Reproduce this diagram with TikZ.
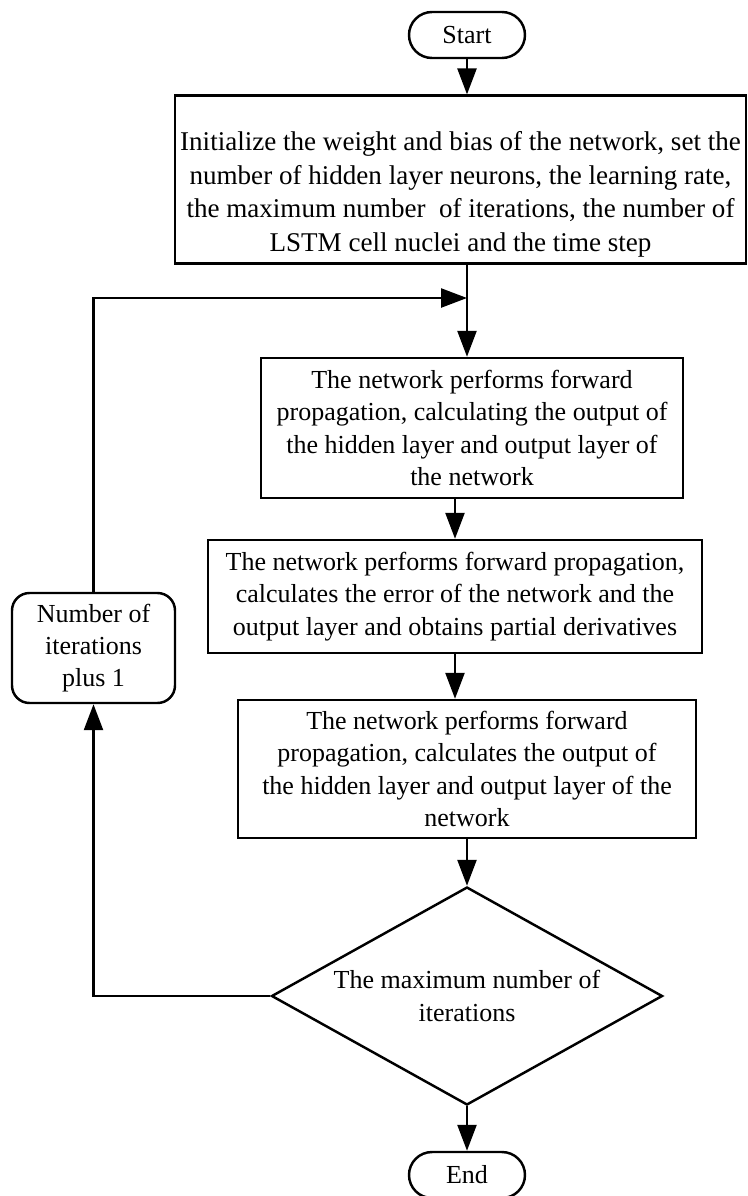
\documentclass[tikz,border=0pt]{standalone}
\usepackage{fontspec}
\setmainfont{Liberation Serif}
\usetikzlibrary{arrows.meta, shapes.geometric}

\begin{document}
\begin{tikzpicture}[
    box/.style={
        draw=black, line width=1.4pt, align=center, inner xsep=0pt,
        font=\fontsize{14.8}{18.4}\selectfont
    },
    term/.style={box, rounded corners=0.46cm, minimum width=2.32cm, minimum height=0.92cm},
    dec/.style={box, diamond, aspect=1.8, inner sep=0pt, minimum width=7.82cm, minimum height=4.36cm},
    arr/.style={-{Triangle[length=0.52cm, width=0.38cm]}, line width=1.4pt},
    ]

    \useasboundingbox (0,0) rectangle (14.96,-23.92);

    % -- main column --------------------------------------------------
    \node[term] (start) at (9.34, -0.70) {Start};

    \node[box, minimum width=11.42cm, minimum height=3.22cm,
        font=\fontsize{15.4}{19.2}\selectfont] (init) at (9.21, -3.59)
    {\rule{0pt}{0.98cm}Initialize the weight and bias of the network, set the\\
        number of hidden layer neurons, the learning rate,\\
        the maximum number\ \ of iterations, the number of\\
        LSTM cell nuclei and the time step};

    \coordinate (join) at (9.34, -5.96);

    \node[box, minimum width=8.44cm, minimum height=2.80cm] (fwd) at (9.44, -8.56)
    {The network performs forward\\ propagation, calculating the output of\\
        the hidden layer and output layer of\\ the network};

    \node[box, minimum width=9.88cm, minimum height=2.26cm] (err) at (9.10, -11.93)
    {The network performs forward propagation,\\ calculates the error of the network and the\\
        output layer and obtains partial derivatives};

    \node[box, minimum width=9.16cm, minimum height=2.76cm] (out) at (9.34, -15.38)
    {The network performs forward\\ propagation, calculates the output of\\
        the hidden layer and output layer of the\\ network};

    \node[dec] (check) at (9.34, -19.92) {The maximum number of\\ iterations};

    \node[term] (end) at (9.34, -23.50) {End};

    % -- loop back ----------------------------------------------------
    \node[box, rounded corners=0.35cm, minimum width=3.26cm, minimum height=2.2cm] (count) at (1.87, -12.96)
    {Number of\\ iterations\\ plus 1};

    \draw[arr] (start.south) -- (start.south |- init.north);
    \draw[arr] (join |- init.south) -- (join |- fwd.north);
    \draw[arr] (fwd.south -| err.north) -- (err.north);
    \draw[arr] (err.south) -- (err.south |- out.north);
    \draw[arr] (out.south -| check.north) -- (check.north);
    \draw[arr] (check.south) -- (end.north);
    \draw[arr] (check.west) -| (count.south);
    \draw[arr] (count.north) |- (join);

\end{tikzpicture}
\end{document}
